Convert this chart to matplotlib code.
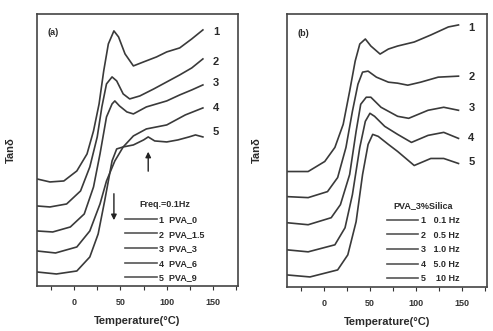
import matplotlib
matplotlib.use("Agg")
import matplotlib.pyplot as plt
from matplotlib.lines import Line2D
from matplotlib.ticker import MultipleLocator

plt.rcParams['font.family'] = ['Liberation Sans', 'DejaVu Sans']

# ---------------- Panel (a): Freq = 0.1 Hz, PVA with silica content ----------------
a_T1 = [-40, -26, -11, 3, 14, 21, 27, 32, 37, 43, 48, 55, 64, 75, 89, 100, 114, 127, 139]
a_y1 = [107, 104, 105, 115, 132, 155, 182, 215, 242, 255, 249, 232, 220, 224, 229, 234, 238, 247, 256]
a_T2 = [-40, -26, -8, 7, 17, 25, 30, 35, 41, 46, 53, 60, 71, 86, 100, 114, 127, 139]
a_y2 = [80, 79, 82, 95, 119, 149, 179, 202, 209, 205, 192, 187, 190, 197, 204, 211, 218, 227]
a_T3 = [-40, -23, -4, 11, 21, 28, 35, 41, 44, 49, 57, 64, 78, 100, 114, 127, 139]
a_y3 = [55, 54, 59, 72, 99, 132, 169, 182, 185, 180, 174, 172, 179, 185, 191, 196, 201]
a_T4 = [-40, -20, 3, 17, 28, 35, 44, 53, 64, 78, 100, 120, 139]
a_y4 = [35, 33, 39, 55, 82, 105, 125, 139, 150, 157, 161, 171, 178]
a_T5 = [-40, -19, 3, 17, 26, 33, 41, 46, 53, 64, 75, 80, 87, 100, 112, 124, 131, 139]
a_y5 = [14, 12, 15, 29, 52, 85, 125, 137, 139, 141, 146, 149, 145, 144, 146, 149, 151, 149]
a_label_y = [254, 224, 203, 178, 154]
a_legend = ["1  PVA_0", "2  PVA_1.5", "3  PVA_3", "4  PVA_6", "5  PVA_9"]
a_title = "Freq.=0.1Hz"

# ---------------- Panel (b): PVA_3%Silica at several frequencies ----------------
b_T1 = [-40, -17, 1, 12, 21, 28, 34, 39, 45, 51, 61, 70, 80, 98, 116, 135, 146]
b_y1 = [115, 115, 125, 139, 162, 195, 225, 242, 247, 240, 232, 237, 240, 244, 251, 259, 261]
b_T2 = [-40, -17, 4, 15, 24, 31, 37, 42, 48, 57, 70, 80, 91, 105, 124, 146]
b_y2 = [90, 89, 95, 109, 139, 175, 202, 214, 215, 209, 204, 203, 201, 204, 209, 210]
b_T3 = [-40, -17, 8, 18, 28, 35, 40, 46, 51, 62, 80, 92, 113, 130, 146]
b_y3 = [64, 62, 69, 82, 112, 155, 182, 189, 189, 179, 170, 168, 176, 179, 176]
b_T4 = [-40, -17, 12, 23, 31, 39, 45, 50, 55, 66, 80, 95, 113, 130, 146]
b_y4 = [37, 35, 42, 59, 92, 139, 165, 173, 170, 160, 152, 144, 151, 154, 148]
b_T5 = [-40, -15, 15, 26, 35, 42, 48, 53, 59, 70, 80, 98, 116, 130, 146]
b_y5 = [12, 10, 17, 32, 65, 112, 142, 152, 150, 142, 135, 121, 128, 128, 123]
b_label_y = [258, 209, 178, 148, 124]
b_legend = ["1   0.1 Hz", "2   0.5 Hz", "3   1.0 Hz", "4   5.0 Hz", "5    10 Hz"]
b_title = "PVA_3%Silica"

x_ticks = [0, 50, 100, 150]
x_label = "Temperature(\u00b0C)"
y_label = "Tan\u03b4"
curve_ids = ["1", "2", "3", "4", "5"]

LC = "#3a3a3a"
TC = "#2a2a2a"
fig = plt.figure(figsize=(4.93, 3.31), dpi=100)
ax_a = fig.add_axes([0.075, 0.136, 0.408, 0.822])
ax_b = fig.add_axes([0.582, 0.133, 0.406, 0.825])


def style(ax, tag, ylabpad):
    ax.set_xlim(-40, 177)
    ax.set_ylim(0, 272)
    ax.set_xticks(x_ticks)
    ax.xaxis.set_minor_locator(MultipleLocator(25))
    ax.tick_params(axis='x', which='both', direction='out', length=3, width=0.8,
                   labelsize=6.5, pad=6, colors='#333333')
    for lab in ax.get_xticklabels():
        lab.set_fontweight('bold')
    ax.set_yticks([])
    for s in ax.spines.values():
        s.set_linewidth(1.2)
        s.set_color('#444444')
    ax.set_xlabel(x_label, fontsize=8, labelpad=6, color=TC, fontweight='bold')
    ax.set_ylabel(y_label, fontsize=8, labelpad=ylabpad, color=TC, fontweight='bold')
    ax.text(0.08, 0.93, tag, transform=ax.transAxes, fontsize=6.5,
            ha='center', va='center', color=TC, fontweight='bold')


def legend(ax, labels, title, x0):
    handles = [Line2D([], [], color='#555555', lw=1.2) for _ in labels]
    lg = ax.legend(handles, labels, title=title, loc='lower left',
                   bbox_to_anchor=(x0, 0.0), frameon=False,
                   prop={'size': 6.5, 'weight': 'bold'},
                   handlelength=3.5, handletextpad=0.3, labelspacing=0.62,
                   borderaxespad=0.0)
    lg.get_title().set_fontsize(6.5)
    lg.get_title().set_fontweight('bold')
    lg.get_title().set_color(TC)
    for t in lg.get_texts():
        t.set_color(TC)


# Panel (a)
for T, y in [(a_T1, a_y1), (a_T2, a_y2), (a_T3, a_y3), (a_T4, a_y4), (a_T5, a_y5)]:
    ax_a.plot(T, y, color=LC, lw=1.2)
for cid, yy in zip(curve_ids, a_label_y):
    ax_a.text(153, yy, cid, fontsize=8, ha='center', va='center', color=TC,
              fontweight='bold')
style(ax_a, "(a)", 15)
ax_a.annotate("", xy=(80, 137), xytext=(80, 112),
              arrowprops=dict(arrowstyle='-|>', color='#222222', lw=1.0,
                              mutation_scale=8))
ax_a.annotate("", xy=(43, 63), xytext=(43, 95),
              arrowprops=dict(arrowstyle='-|>', color='#222222', lw=1.0,
                              mutation_scale=8))
legend(ax_a, a_legend, a_title, 0.42)

# Panel (b)
for T, y in [(b_T1, b_y1), (b_T2, b_y2), (b_T3, b_y3), (b_T4, b_y4), (b_T5, b_y5)]:
    ax_b.plot(T, y, color=LC, lw=1.2)
for cid, yy in zip(curve_ids, b_label_y):
    ax_b.text(160, yy, cid, fontsize=8, ha='center', va='center', color=TC,
              fontweight='bold')
style(ax_b, "(b)", 18)
legend(ax_b, b_legend, b_title, 0.48)

fig.savefig("out.png", dpi=100)
